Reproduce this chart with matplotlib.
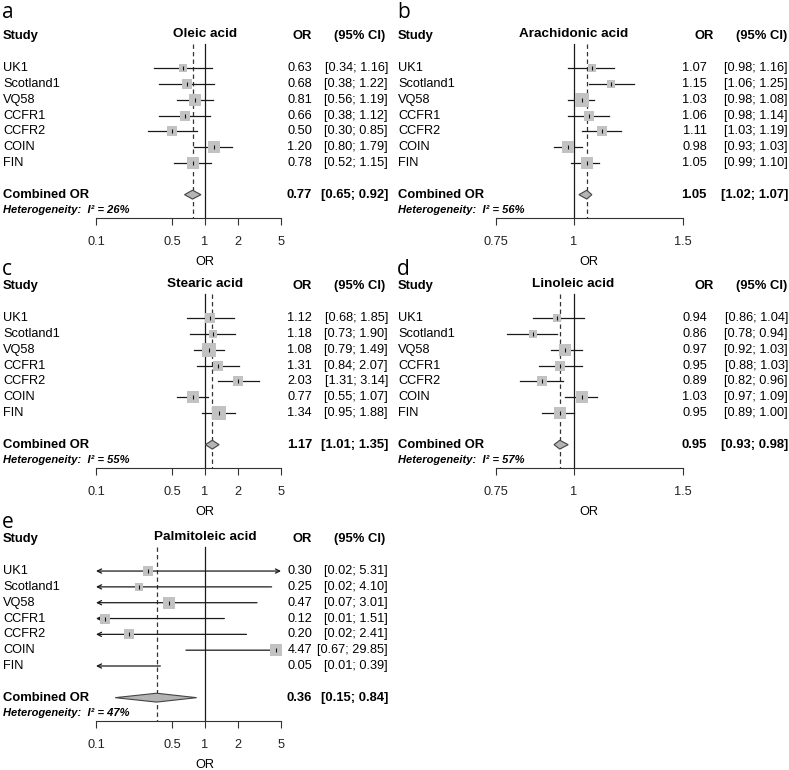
import matplotlib
matplotlib.use('Agg')
import matplotlib.pyplot as plt
from matplotlib.patches import Polygon
from matplotlib.ticker import NullLocator
from matplotlib.transforms import blended_transform_factory
import numpy as np

plt.rcParams['font.family'] = ['Liberation Sans', 'DejaVu Sans']

W, H = 789, 770

studies = ['UK1', 'Scotland1', 'VQ58', 'CCFR1', 'CCFR2', 'COIN', 'FIN']

# a - Oleic acid
oleicOR = [0.63, 0.68, 0.81, 0.66, 0.50, 1.20, 0.78]
oleicLo = [0.34, 0.38, 0.56, 0.38, 0.30, 0.80, 0.52]
oleicHi = [1.16, 1.22, 1.19, 1.12, 0.85, 1.79, 1.15]
oleicW = [3.8, 6.3, 13.0, 6.3, 6.3, 11.1, 11.1]
oleicComb = [0.77, 0.65, 0.92]
oleicI2 = 26

# b - Arachidonic acid
arachOR = [1.07, 1.15, 1.03, 1.06, 1.11, 0.98, 1.05]
arachLo = [0.98, 1.06, 0.98, 0.98, 1.03, 0.93, 0.99]
arachHi = [1.16, 1.25, 1.08, 1.14, 1.19, 1.03, 1.10]
arachW = [3.8, 3.8, 15.1, 6.3, 6.3, 11.1, 13.0]
arachComb = [1.05, 1.02, 1.07]
arachI2 = 56

# c - Stearic acid
stearOR = [1.12, 1.18, 1.08, 1.31, 2.03, 0.77, 1.34]
stearLo = [0.68, 0.73, 0.79, 0.84, 1.31, 0.55, 0.95]
stearHi = [1.85, 1.90, 1.49, 2.07, 3.14, 1.07, 1.88]
stearW = [6.3, 4.9, 15.1, 6.3, 7.7, 13.0, 15.1]
stearComb = [1.17, 1.01, 1.35]
stearI2 = 55

# d - Linoleic acid
linolOR = [0.94, 0.86, 0.97, 0.95, 0.89, 1.03, 0.95]
linolLo = [0.86, 0.78, 0.92, 0.88, 0.82, 0.97, 0.89]
linolHi = [1.04, 0.94, 1.03, 1.03, 0.96, 1.09, 1.00]
linolW = [4.9, 4.9, 13.0, 6.3, 7.7, 13.0, 13.0]
linolComb = [0.95, 0.93, 0.98]
linolI2 = 57

# e - Palmitoleic acid
palmOR = [0.30, 0.25, 0.47, 0.12, 0.20, 4.47, 0.05]
palmLo = [0.02, 0.02, 0.07, 0.01, 0.02, 0.67, 0.01]
palmHi = [5.31, 4.10, 3.01, 1.51, 2.41, 29.85, 0.39]
palmW = [7.7, 4.9, 13.0, 7.7, 6.3, 13.0, 4.9]
palmComb = [0.36, 0.15, 0.84]
palmI2 = 47

wideTicks = [0.1, 0.5, 1, 2, 5]
wideLabels = ['0.1', '0.5', '1', '2', '5']
narrowTicks = [0.75, 1, 1.5]
narrowLabels = ['0.75', '1', '1.5']

LINE = '#1a1a1a'
SQUARE = '#c2c2c2'
DIAMOND = '#b4b4b4'

fig = plt.figure(figsize=(W / 100, H / 100), dpi=100)


def fx(px):
    return px / W


def drawForest(letter, title, ors, lo, hi, weights, comb, i2, ticks, labels,
               ox, oy, letterY, x0, x1, cols, xlabPos):
    yTop = oy + 36.4
    yBot = oy + 218.4
    ax = fig.add_axes([fx(x0), 1 - yBot / H, (x1 - x0) / W, (yBot - yTop) / H])
    ax.patch.set_visible(False)
    xmin, xmax = ticks[0], ticks[-1]
    ax.set_xscale('log')
    ax.set_xlim(xmin, xmax)
    ax.set_ylim(11.5, 0)
    ax.set_xticks(ticks)
    ax.set_xticklabels(labels)
    ax.xaxis.set_minor_locator(NullLocator())
    ax.set_yticks([])
    for s in ['top', 'left', 'right']:
        ax.spines[s].set_visible(False)
    ax.spines['bottom'].set_bounds(xmin, xmax)
    ax.spines['bottom'].set_color('#333333')
    ax.spines['bottom'].set_linewidth(0.8)
    ax.tick_params(axis='x', length=5, width=0.8, pad=7.5, labelsize=9.2,
                   colors='#333333', labelcolor='#222222')

    tr = blended_transform_factory(fig.transFigure, ax.transData)
    studyX, orHead, ciHead, orRight, ciRight = cols

    # headers
    ax.text(fx(studyX), 0, 'Study', transform=tr, fontsize=9.4, weight='bold',
            ha='left', va='center')
    ax.text(1, -0.15, title, fontsize=9.7, weight='bold', ha='center',
            va='center', clip_on=False)
    ax.text(fx(orHead), 0, 'OR', transform=tr, fontsize=9.4, weight='bold',
            ha='center', va='center')
    ax.text(fx(ciHead), 0, '(95% CI)', transform=tr, fontsize=9.4, weight='bold',
            ha='right', va='center')

    # reference lines
    ax.plot([1, 1], [0.45, 11.5], color=LINE, lw=0.9, zorder=1)
    ax.plot([comb[0], comb[0]], [0.45, 11.5], color='#333333', lw=0.9,
            dashes=(3.5, 2.5), zorder=1)

    for i, name in enumerate(studies):
        r = 2 + i
        ax.text(fx(studyX), r, name, transform=tr, fontsize=9.2, ha='left', va='center')
        ax.text(fx(orRight), r, '%.2f' % ors[i], transform=tr, fontsize=9.2,
                ha='right', va='center')
        ax.text(fx(ciRight), r, '[%.2f; %.2f]' % (lo[i], hi[i]), transform=tr,
                fontsize=9.2, ha='right', va='center')

        a = max(lo[i], xmin)
        b = min(hi[i], xmax)
        leftArrow = lo[i] < xmin
        rightArrow = hi[i] > xmax
        if leftArrow or rightArrow:
            if leftArrow and rightArrow:
                style, start, end = '<->', (a, r), (b, r)
            elif leftArrow:
                style, start, end = '->', (b, r), (a, r)
            else:
                style, start, end = '->', (a, r), (b, r)
            ax.annotate('', xy=end, xytext=start, annotation_clip=False,
                        arrowprops=dict(arrowstyle=style + ',head_length=0.3,head_width=0.15',
                                        color=LINE, lw=0.9, shrinkA=0, shrinkB=0),
                        zorder=2)
        else:
            ax.plot([a, b], [r, r], color=LINE, lw=0.9, zorder=2)

        if xmin <= ors[i] <= xmax:
            side = 3.6 * np.sqrt(weights[i]) * 0.72
            ax.scatter([ors[i]], [r], marker='s', s=side ** 2, color=SQUARE,
                       linewidths=0, zorder=3, clip_on=False)
            ax.scatter([ors[i]], [r], marker='|', s=9, color='#111111',
                       linewidths=0.8, zorder=4, clip_on=False)

    # combined
    ax.text(fx(studyX), 10, 'Combined OR', transform=tr, fontsize=9.4,
            weight='bold', ha='left', va='center')
    ax.text(fx(orRight), 10, '%.2f' % comb[0], transform=tr, fontsize=9.4,
            weight='bold', ha='right', va='center')
    ax.text(fx(ciRight), 10, '[%.2f; %.2f]' % (comb[1], comb[2]), transform=tr,
            fontsize=9.4, weight='bold', ha='right', va='center')
    h = 0.28
    diamond = Polygon([(comb[1], 10), (comb[0], 10 - h), (comb[2], 10), (comb[0], 10 + h)],
                      closed=True, facecolor=DIAMOND, edgecolor='#444444', lw=0.8,
                      zorder=3)
    ax.add_patch(diamond)
    ax.text(fx(studyX), 11, 'Heterogeneity:  I\u00b2 = %d%%' % i2, transform=tr,
            fontsize=8, weight='bold', style='italic', ha='left', va='center')

    # x label
    fig.text(xlabPos, 1 - (oy + 262) / H, 'OR', fontsize=9.2, ha='center', va='center',
             transform=blended_transform_factory(ax.transData, fig.transFigure))

    # panel letter
    fig.text(fx(ox + 2), 1 - letterY / H, letter, fontsize=15, family='Open Sans',
             ha='left', va='baseline')


leftCols = (3, 302, 385, 312, 388)
rightCols = (398, 704, 787, 707, 788)

drawForest('a', 'Oleic acid', oleicOR, oleicLo, oleicHi, oleicW, oleicComb, oleicI2,
           wideTicks, wideLabels, 0, 0, 18, 96, 281, leftCols, 1.0)
drawForest('b', 'Arachidonic acid', arachOR, arachLo, arachHi, arachW, arachComb, arachI2,
           narrowTicks, narrowLabels, 395, 0, 18, 496, 683, rightCols, 1.06)
drawForest('c', 'Stearic acid', stearOR, stearLo, stearHi, stearW, stearComb, stearI2,
           wideTicks, wideLabels, 0, 250, 275, 96, 281, leftCols, 1.0)
drawForest('d', 'Linoleic acid', linolOR, linolLo, linolHi, linolW, linolComb, linolI2,
           narrowTicks, narrowLabels, 395, 250, 275, 496, 683, rightCols, 1.06)
drawForest('e', 'Palmitoleic acid', palmOR, palmLo, palmHi, palmW, palmComb, palmI2,
           wideTicks, wideLabels, 0, 503, 528, 96, 281, leftCols, 1.0)

fig.savefig('out.png', dpi=100, facecolor='white')
